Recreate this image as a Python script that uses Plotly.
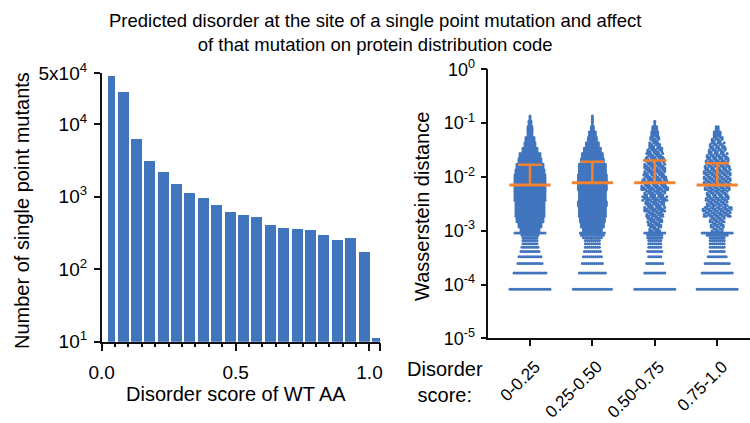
import numpy as np
import plotly.graph_objects as go

W, H = 750, 423
FONT = "Liberation Sans"
BLUE = "#4175BE"
ORANGE = "#F4812F"

# ---- Left panel: histogram of WT disorder scores (bins of 0.05) ----
bin_width = 0.05
bin_starts = np.arange(21) * bin_width
mutant_counts = [45000, 27000, 6200, 3100, 2130, 1460, 1095, 946, 765, 613,
                 552, 512, 406, 369, 357, 339, 295, 246, 266, 172, 11]
count_ticks = [10, 100, 1000, 10000, 50000]
count_tick_text = ["10<sup>1</sup>", "10<sup>2</sup>", "10<sup>3</sup>",
                   "10<sup>4</sup>", "5x10<sup>4</sup>"]

# ---- Right panel: Wasserstein distance per disorder-score group ----
groups = ["0-0.25", "0.25-0.50", "0.50-0.75", "0.75-1.0"]
medians = [0.0071, 0.0078, 0.0078, 0.0071]
upper_quartiles = [0.0169, 0.0192, 0.0201, 0.0179]

# smallest resolvable distance; low values come in integer multiples of it
quantum = 8.2e-5
# dots per row at k * quantum, k = 1..11
low_rows = [
    [21, 17, 13, 12, 10, 9, 8, 8, 8, 9, 16],
    [20, 14, 11, 10, 9, 8, 8, 8, 10, 12, 13],
    [21, 11, 9, 7, 8, 7, 7, 7, 8, 8, 11],
    [21, 16, 13, 10, 8, 8, 8, 8, 8, 11, 16],
]
# dots per row in log10 bands above 1e-3
band_log10 = [-3.0, -2.9, -2.8, -2.7, -2.6, -2.5, -2.4, -2.3, -2.2, -2.1, -2.0,
              -1.9, -1.8, -1.7, -1.6, -1.5, -1.4, -1.3, -1.2, -1.1, -1.0, -0.9]
band_rows = [
    [10, 12, 14, 15, 15, 15, 16, 16, 16, 16, 16, 15, 14, 12, 11, 8, 6, 5, 3, 3, 2, 1],
    [10, 12, 13, 14, 14, 15, 14, 14, 15, 15, 15, 14, 14, 12, 11, 9, 7, 5, 4, 2, 1, 1],
    [6, 7, 8, 9, 11, 10, 13, 11, 14, 13, 12, 11, 11, 10, 9, 8, 6, 5, 4, 3, 1, 0],
    [6, 7, 8, 14, 15, 11, 12, 11, 13, 14, 14, 14, 13, 12, 11, 9, 8, 6, 4, 2, 0, 0],
]
distance_ticks = [1e-5, 1e-4, 1e-3, 1e-2, 1e-1, 1]
distance_tick_text = ["10<sup>-5</sup>", "10<sup>-4</sup>", "10<sup>-3</sup>",
                      "10<sup>-2</sup>", "10<sup>-1</sup>", "10<sup>0</sup>"]

# ---- geometry (pixels) ----
L_X0, L_X1, L_Y0, L_Y1 = 101.7, 380.2, 341.7, 73.3
R_X0, R_X1, R_Y0, R_Y1 = 488.3, 750.0, 338.3, 69.3
R_RANGE = [-0.668, 3.526]
R_PX_PER_UNIT = (R_X1 - R_X0) / (R_RANGE[1] - R_RANGE[0])


def fx(px):
    return px / W


def fy(py):
    return 1 - py / H


# swarm layout: rows of dots spread symmetrically around each group
dot_px = 2.0
step = dot_px / R_PX_PER_UNIT
sub_rows = [-0.033, 0.0, 0.033]
# sparser groups are drawn with a staggered, thinned dot pattern
thinning = [0, 0, 4, 3]


def row(center, value, n, xs, ys, thin, r):
    offs = (np.arange(n) - (n - 1) / 2) * step
    for i, o in enumerate(offs):
        if thin and n > 4 and (i + r) % thin == 0:
            continue
        xs.append(center + o)
        ys.append(value)


fig = go.Figure()

fig.add_trace(go.Bar(
    x=bin_starts, y=mutant_counts,
    offset=[0.021] + [0.008] * 20,
    width=[0.029] + [0.041] * 20,
    marker=dict(color=BLUE, line=dict(width=0)),
    xaxis="x", yaxis="y", showlegend=False,
))

for gi in range(len(groups)):
    xs, ys = [], []
    r = 0
    for k, n in enumerate(low_rows[gi], start=1):
        row(gi, k * quantum, n, xs, ys, 0, r)
    for lg, n in zip(band_log10, band_rows[gi]):
        if n == 0:
            continue
        for d in sub_rows:
            r += 1
            row(gi, 10 ** (lg + d), n, xs, ys, thinning[gi], r)
    fig.add_trace(go.Scatter(
        x=xs, y=ys, mode="markers",
        marker=dict(color=BLUE, size=3, line=dict(width=0)),
        xaxis="x2", yaxis="y2", showlegend=False, hoverinfo="skip",
    ))

# median with upper quartile
mx, my, ex, ey = [], [], [], []
for gi, (m, q) in enumerate(zip(medians, upper_quartiles)):
    mx += [gi - 0.33, gi + 0.33, None]
    my += [m, m, None]
    ex += [gi, gi, None, gi - 0.19, gi + 0.19, None]
    ey += [m, q, None, q, q, None]
fig.add_trace(go.Scatter(x=ex, y=ey, mode="lines",
                         line=dict(color=ORANGE, width=2.5),
                         xaxis="x2", yaxis="y2", showlegend=False))
fig.add_trace(go.Scatter(x=mx, y=my, mode="lines",
                         line=dict(color=ORANGE, width=3),
                         xaxis="x2", yaxis="y2", showlegend=False))


def axis_style(size):
    return dict(showline=True, linecolor="#111", linewidth=1.5,
                ticks="outside", tickcolor="#111", tickwidth=1.5,
                showgrid=False, zeroline=False, automargin=False,
                tickfont=dict(family=FONT, size=size, color="black"))


fig.update_layout(
    width=W, height=H,
    margin=dict(l=0, r=0, t=0, b=0, autoexpand=False),
    paper_bgcolor="white", plot_bgcolor="white",
    bargap=0,
    xaxis=dict(domain=[fx(L_X0), fx(L_X1)], range=[0, 1.04], anchor="y",
               tickvals=[0, 0.5, 1.0, 1.04], ticktext=["0.0", "0.5", "1.0", ""],
               ticklen=8, ticklabelstandoff=5,
               minor=dict(dtick=0.05, tick0=0, ticklen=4, tickwidth=1.5,
                          tickcolor="#111", ticks="outside"),
               **axis_style(19)),
    yaxis=dict(domain=[fy(L_Y0), fy(L_Y1)], type="log",
               range=[1, np.log10(50000)], anchor="x",
               tickvals=count_ticks, ticktext=count_tick_text, ticklen=6,
               ticklabelstandoff=3,
               **axis_style(19)),
    xaxis2=dict(domain=[fx(R_X0), fx(R_X1)], range=R_RANGE, anchor="y2",
                tickvals=[0, 1, 2, 3], showticklabels=False, ticklen=6,
                **axis_style(18)),
    yaxis2=dict(domain=[fy(R_Y0), fy(R_Y1)], type="log", range=[-5, 0],
                anchor="x2", tickvals=distance_ticks,
                ticktext=distance_tick_text, ticklen=6, ticklabelstandoff=2,
                **axis_style(18)),
)

ann_font = dict(family=FONT, size=20, color="black")
annotations = [
    dict(text="Predicted disorder at the site of a single point mutation and affect"
              "<br>of that mutation on protein distribution code",
         x=0.5, y=fy(32), xanchor="center", yanchor="middle",
         font=dict(family=FONT, size=18.5, color="black")),
    dict(text="Number of single point mutants", x=fx(22), y=fy(211),
         textangle=-90, xanchor="center", yanchor="middle", font=ann_font),
    dict(text="Disorder score of WT AA", x=fx(236), y=fy(394),
         xanchor="center", yanchor="middle", font=ann_font),
    dict(text="Wasserstein distance", x=fx(422), y=fy(207),
         textangle=-90, xanchor="center", yanchor="middle", font=ann_font),
    dict(text="Disorder<br>score:", x=fx(445), y=fy(382),
         xanchor="center", yanchor="middle", font=ann_font),
]
for a in annotations:
    a.update(xref="paper", yref="paper", showarrow=False)

# slanted group labels, their upper ends just right of each tick
label_shift = 15 / R_PX_PER_UNIT
for gi, g in enumerate(groups):
    annotations.append(dict(
        text=g, x=gi + label_shift, y=fy(356), xref="x2", yref="paper",
        textangle=-45, xanchor="right", yanchor="top", showarrow=False,
        borderpad=0, font=dict(family=FONT, size=17, color="black")))

fig.update_layout(annotations=annotations)

fig.write_html("out.html")
